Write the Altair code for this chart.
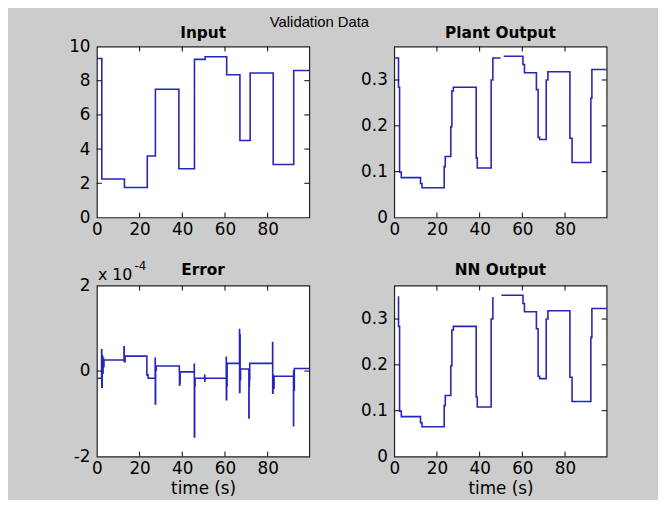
import altair as alt
import pandas as pd

# ---------------- data ----------------
suptitle = "Validation Data"
panel_titles = ["Input", "Plant Output", "Error", "NN Output"]
x_label = "time (s)"
exp_text = ["x 10", "-4"]

x_ticks = [0, 20, 40, 60, 80]
input_ticks = [0, 2, 4, 6, 8, 10]
out_ticks = [0, 0.1, 0.2, 0.3]
err_ticks = [-2, 0, 2]

input_t = [0, 2.3, 12.9, 23.6, 27.4, 38.4, 45.7, 50.7, 60.8, 67.0, 71.8, 82.6, 92.2, 99.5]
input_v = [9.3, 2.25, 1.75, 3.6, 7.5, 2.85, 9.25, 9.4, 8.35, 4.5, 8.45, 3.1, 8.6, 8.6]

plant_t_a = [0, 2.0, 2.5, 3.3, 12.3, 13.0, 23.4, 23.9, 26.5, 27.0, 27.7, 38.4, 38.9, 45.4, 46.2, 49.8]
plant_v_a = [0.348, 0.284, 0.099, 0.087, 0.074, 0.065, 0.111, 0.133, 0.198, 0.276, 0.284, 0.130, 0.108, 0.300, 0.348, 0.348]
plant_t_b = [51.3, 60.3, 61.0, 66.6, 67.4, 68.1, 71.2, 72.0, 82.3, 83.3, 92.1, 92.6, 99.5]
plant_v_b = [0.352, 0.334, 0.316, 0.279, 0.175, 0.170, 0.300, 0.318, 0.173, 0.120, 0.260, 0.323, 0.323]

nn_t_a = [1.7, 2.0, 2.5, 3.3, 12.3, 13.0, 23.4, 23.9, 26.5, 27.0, 27.7, 38.4, 38.9, 45.4, 46.2]
nn_v_a = [0.348, 0.284, 0.099, 0.087, 0.074, 0.065, 0.111, 0.133, 0.198, 0.276, 0.284, 0.130, 0.108, 0.300, 0.348]
nn_t_b = [50.2, 60.3, 61.0, 66.6, 67.4, 68.1, 71.2, 72.0, 82.3, 83.3, 92.1, 92.6, 99.5]
nn_v_b = [0.352, 0.334, 0.316, 0.279, 0.175, 0.170, 0.300, 0.318, 0.173, 0.120, 0.260, 0.323, 0.323]

# error in units of 1e-4
err_t = [0.3, 2.2, 2.3, 2.5, 2.7, 2.9, 3.1, 3.3, 12.7, 12.8, 13.2, 23.4, 24.0,
         27.3, 27.35, 27.5, 27.8, 38.6, 38.7, 38.8, 38.9, 39.0,
         45.6, 45.65, 45.8, 46.0, 50.5, 50.55, 50.6,
         60.6, 60.65, 60.8, 60.9, 61.0, 66.8, 66.85, 67.0, 67.1, 67.3,
         71.2, 71.3, 71.45, 71.6, 82.3, 82.35, 82.5, 82.7, 83.0,
         92.1, 92.15, 92.3, 92.5, 99.5]
err_v = [-0.17, 0.50, -0.38, 0.35, -0.05, 0.30, 0.10, 0.26, 0.57, 0.22, 0.35, -0.09, -0.17,
         0.30, -0.77, 0.02, 0.12, -0.02, -0.33, -0.05, -0.28, -0.02,
         0.16, -1.54, -0.35, -0.17, -0.10, -0.24, -0.17,
         0.32, -0.67, 0.05, -0.35, 0.18, 0.97, -0.50, 0.85, -0.20, 0.05,
         -1.10, -0.35, -0.20, 0.18, 0.67, -0.52, -0.10, -0.40, -0.12,
         -1.28, 0.00, -0.45, 0.06, 0.06]


def frame(segments):
    rows = []
    for s, (ts, vs) in enumerate(segments):
        for i, (t, v) in enumerate(zip(ts, vs)):
            rows.append({"t": t, "v": v, "seg": s, "i": i})
    return pd.DataFrame(rows)


# ---------------- styling ----------------
W, H = 215, 173
LINE = "#2626b8"
XS = alt.Scale(domain=[0, 99.5], nice=False, zero=False)
TITLE_FONT = "DejaVu Sans"
LABEL_FONT = "DejaVu Sans"


def text_layer(s, x, y, size, weight="normal", align="center", font=LABEL_FONT):
    return alt.Chart(pd.DataFrame({"s": [s]})).mark_text(
        font=font, fontSize=size, fontWeight=weight, color="black",
        align=align, baseline="alphabetic"
    ).encode(text="s:N", x=alt.value(x), y=alt.value(y))


def panel(df, title, ydom, yticks, title_y, xtitle="", extras=()):
    ys = alt.Scale(domain=ydom, nice=False, zero=False)
    if xtitle:
        xaxis = alt.Axis(values=x_ticks, title=xtitle)
    else:
        xaxis = alt.Axis(values=x_ticks, title=None)
    yaxis = alt.Axis(values=yticks, title=None, labelExpr="'' + datum.value")
    line = alt.Chart(df).mark_line(
        interpolate="step-after", color=LINE, strokeWidth=1.6
    ).encode(
        x=alt.X("t:Q", scale=XS, axis=xaxis),
        y=alt.Y("v:Q", scale=ys, axis=yaxis),
        detail="seg:N",
        order="i:Q",
    )
    xt = pd.DataFrame({"t": [v for v in x_ticks if v > 0]})
    yt = pd.DataFrame({"v": [v for v in yticks if ydom[0] < v < ydom[1]]})
    tick = dict(color="black", strokeWidth=1)
    bottom = alt.Chart(xt).mark_rule(**tick).encode(
        x=alt.X("t:Q", scale=XS, axis=xaxis), y=alt.value(H), y2=alt.value(H - 5))
    top = alt.Chart(xt).mark_rule(**tick).encode(
        x=alt.X("t:Q", scale=XS, axis=xaxis), y=alt.value(0), y2=alt.value(5))
    left = alt.Chart(yt).mark_rule(**tick).encode(
        y=alt.Y("v:Q", scale=ys, axis=yaxis), x=alt.value(0), x2=alt.value(5))
    right = alt.Chart(yt).mark_rule(**tick).encode(
        y=alt.Y("v:Q", scale=ys, axis=yaxis), x=alt.value(W), x2=alt.value(W - 5))
    ttl = text_layer(title, W / 2, title_y, 15.5, weight="bold", font=TITLE_FONT)
    return alt.layer(line, bottom, top, left, right, ttl, *extras).properties(
        width=W, height=H)


exp_main = text_layer(exp_text[0], 1, -6, 16, align="left")
exp_sup = text_layer(exp_text[1], 38, -16, 12, align="left")

p1 = panel(frame([(input_t, input_v)]), panel_titles[0], [0, 10], input_ticks, -9)
p2 = panel(frame([(plant_t_a, plant_v_a), (plant_t_b, plant_v_b)]), panel_titles[1],
           [0, 0.373], out_ticks, -9)
p3 = panel(frame([(err_t, err_v)]), panel_titles[2], [-2, 2], err_ticks, -11,
           xtitle=x_label, extras=(exp_main, exp_sup))
p4 = panel(frame([(nn_t_a, nn_v_a), (nn_t_b, nn_v_b)]), panel_titles[3],
           [0, 0.373], out_ticks, -11, xtitle=x_label)

chart = alt.concat(
    p1, p2, p3, p4, columns=2, spacing={"row": 21, "column": 47}
).properties(
    padding={"left": 60, "top": 4, "right": 48, "bottom": 0},
    background="#cccccc",
    title=alt.TitleParams(suptitle, font="Liberation Sans", fontSize=15,
                          fontWeight="normal", color="black", anchor="middle",
                          offset=-17, baseline="alphabetic", dx=-20),
).configure_view(
    fill="white", stroke="#222222", strokeWidth=1.2
).configure_axis(
    labelFont=LABEL_FONT, labelFontSize=17, labelColor="black",
    titleFont=LABEL_FONT, titleFontSize=17, titleFontWeight="normal", titleColor="black",
    grid=False, ticks=False, tickSize=0, domain=False, labelFlush=False,
).configure_axisX(
    labelPadding=4, titlePadding=4
).configure_axisY(
    labelPadding=7
)

chart.save("out.html", embed_options={"renderer": "svg", "actions": False})
